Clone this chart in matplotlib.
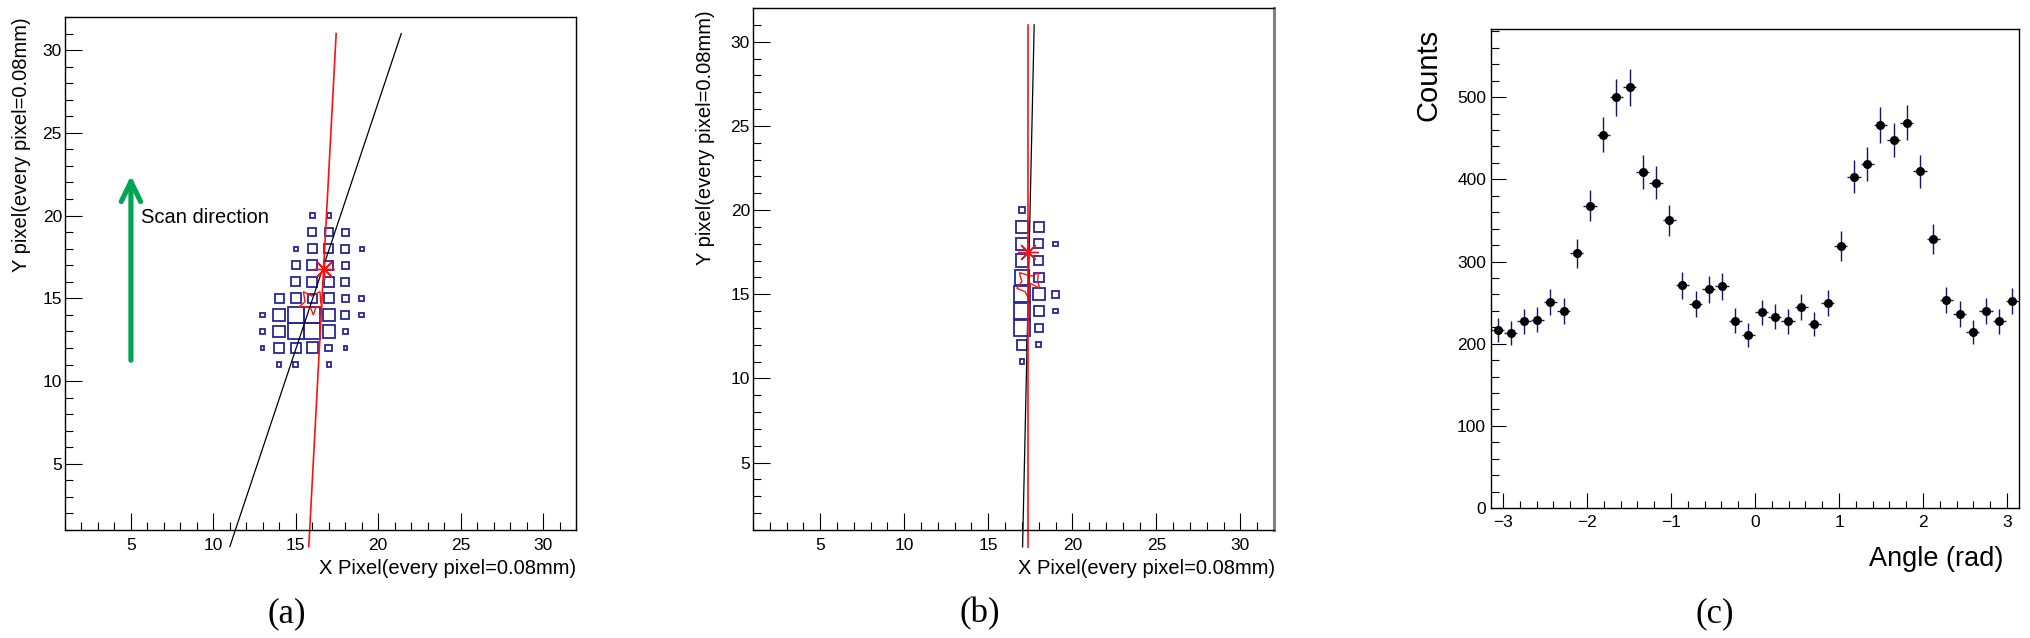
import numpy as np
import matplotlib
matplotlib.use('Agg')
import matplotlib.pyplot as plt
from matplotlib.patches import Rectangle, Polygon
from matplotlib.ticker import MultipleLocator

# ---- panel (a): cluster before the rotation ----
a_x_bins = [13, 14, 15, 16, 17, 18, 19]
a_y_bins = [20, 19, 18, 17, 16, 15, 14, 13, 12, 11]
a_counts = [
    [0, 0, 0, 28, 25, 0, 0],
    [0, 0, 0, 48, 48, 40, 0],
    [0, 0, 24, 56, 52, 48, 24],
    [0, 0, 48, 60, 52, 44, 0],
    [0, 0, 52, 60, 60, 48, 0],
    [0, 52, 60, 52, 60, 44, 28],
    [28, 73, 95, 95, 73, 48, 28],
    [28, 69, 95, 95, 73, 32, 0],
    [20, 57, 60, 65, 40, 20, 0],
    [0, 24, 28, 0, 24, 0, 0],
]
a_black_line = ([11.0, 21.4], [0.0, 31.0])
a_red_line = ([15.79, 17.45], [0.0, 31.0])
a_center = (16.73, 16.75)
a_trace_x = [15.46, 15.97, 16.47, 16.51, 16.58, 16.23, 16.07, 15.87, 15.22, 15.56]
a_trace_y = [15.40, 15.14, 15.40, 14.80, 14.49, 14.49, 13.99, 14.49, 14.49, 14.80]
scan_arrow_x = 5.0
scan_arrow_y = (11.26, 22.41)

# ---- panel (b): cluster after the rotation ----
b_x_bins = [17, 18, 19]
b_y_bins = [20, 19, 18, 17, 16, 15, 14, 13, 12, 11]
b_counts = [
    [36, 0, 0],
    [72, 56, 0],
    [72, 52, 24],
    [72, 52, 0],
    [84, 56, 0],
    [95, 68, 40],
    [95, 60, 24],
    [95, 48, 0],
    [60, 28, 0],
    [28, 0, 0],
]
b_black_line = ([17.04, 17.73], [0.0, 31.0])
b_red_line = ([17.35, 17.35], [0.0, 31.0])
b_center = (17.35, 17.53)
b_trace_x = [16.85, 17.59, 17.98, 17.93, 18.08, 17.49, 17.39, 17.19, 16.70, 17.00]
b_trace_y = [16.28, 16.08, 16.28, 15.75, 15.35, 15.65, 14.76, 15.15, 15.35, 15.75]

# ---- panel (c): angular distribution, 40 bins over [-pi, pi] ----
angle_counts = [217, 213, 227, 229, 251, 240, 310, 368, 454, 500,
                512, 409, 396, 350, 271, 248, 266, 270, 228, 211,
                238, 233, 227, 245, 224, 250, 319, 403, 419, 466,
                448, 469, 410, 327, 253, 236, 214, 240, 227, 252]

W, H = 2030, 638
BOX_COLOR = '#26269a'
RED = '#ff1010'
plt.rcParams['font.family'] = ['Liberation Sans', 'DejaVu Sans']


def add_axes_px(fig, left, top, right, bottom):
    """Add axes from a pixel box (origin top left)."""
    return fig.add_axes([left / W, 1 - bottom / H,
                         (right - left) / W, (bottom - top) / H])


def style_pixel_axes(ax):
    ax.set_xlim(1, 32)
    ax.set_ylim(1, 32)
    ax.xaxis.set_major_locator(MultipleLocator(5))
    ax.xaxis.set_minor_locator(MultipleLocator(1))
    ax.yaxis.set_major_locator(MultipleLocator(5))
    ax.yaxis.set_minor_locator(MultipleLocator(1))
    ax.tick_params(which='both', direction='in', width=0.8, labelsize=12.5)
    ax.tick_params(which='major', length=12.2)
    ax.tick_params(which='minor', length=5.8)
    ax.tick_params(axis='x', pad=5.5)
    ax.tick_params(axis='y', pad=2.2)
    for s in ax.spines.values():
        s.set_linewidth(1.0)


def draw_boxes(ax, xbins, ybins, counts):
    counts = np.asarray(counts, dtype=float)
    top = counts.max()
    for i, yb in enumerate(ybins):
        for j, xb in enumerate(xbins):
            if counts[i, j] <= 0:
                continue
            side = 0.97 * counts[i, j] / top
            ax.add_patch(Rectangle((xb - side / 2, yb - side / 2), side, side,
                                   fill=False, ec=BOX_COLOR, lw=1.3))


def draw_fit(ax, black, red, center, tx, ty):
    ax.plot(black[0], black[1], color='k', lw=0.9, clip_on=False)
    ax.plot(red[0], red[1], color=RED, lw=1.2, clip_on=False)
    ax.add_patch(Polygon(np.column_stack([tx, ty]), closed=True, fill=False,
                         ec=RED, lw=1.0))
    ax.plot([center[0]], [center[1]], marker=(8, 2, 0), ms=15, mec=RED,
            mew=1.0, ls='none')


fig = plt.figure(figsize=(W / 100, H / 100), dpi=100)

# (a)
ax_a = add_axes_px(fig, 65, 17, 576, 530)
style_pixel_axes(ax_a)
draw_boxes(ax_a, a_x_bins, a_y_bins, a_counts)
draw_fit(ax_a, a_black_line, a_red_line, a_center, a_trace_x, a_trace_y)
ax_a.annotate('', xy=(scan_arrow_x, scan_arrow_y[1]),
              xytext=(scan_arrow_x, scan_arrow_y[0]),
              arrowprops=dict(arrowstyle='->,head_length=0.72,head_width=0.35',
                              color='#00a651', lw=3.7, mutation_scale=20,
                              shrinkA=0, shrinkB=0))
ax_a.text(5.6, 19.57, 'Scan direction', fontsize=14.5, va='baseline')

# (b)
ax_b = add_axes_px(fig, 753, 8, 1274, 530)
style_pixel_axes(ax_b)
ax_b.spines['right'].set_color('#808080')
ax_b.spines['right'].set_linewidth(2.2)
draw_boxes(ax_b, b_x_bins, b_y_bins, b_counts)
draw_fit(ax_b, b_black_line, b_red_line, b_center, b_trace_x, b_trace_y)

# (c)
ax_c = add_axes_px(fig, 1491, 29, 2019, 508)
edges = np.linspace(-np.pi, np.pi, len(angle_counts) + 1)
centers = 0.5 * (edges[1:] + edges[:-1])
half = 0.5 * (edges[1] - edges[0])
counts = np.array(angle_counts, dtype=float)
ax_c.errorbar(centers, counts, xerr=half, yerr=np.sqrt(counts), fmt='o',
              ms=5.5, mfc='k', mec='k', ecolor='#14146e', elinewidth=1.0,
              capsize=0)
ax_c.set_xlim(-np.pi, np.pi)
ax_c.set_ylim(0, 583)
ax_c.xaxis.set_major_locator(MultipleLocator(1))
ax_c.xaxis.set_minor_locator(MultipleLocator(0.2))
ax_c.yaxis.set_major_locator(MultipleLocator(100))
ax_c.yaxis.set_minor_locator(MultipleLocator(20))
ax_c.tick_params(which='both', direction='in', width=0.8, labelsize=12.5)
ax_c.tick_params(which='major', length=10.8)
ax_c.tick_params(which='minor', length=5.4)
ax_c.tick_params(axis='x', pad=5.0)
ax_c.tick_params(axis='y', pad=3.6)
for s in ax_c.spines.values():
    s.set_linewidth(1.0)

# axis titles, placed in pixels like the ROOT canvases
def ftext(x, y, s, **kw):
    fig.text(x / W, 1 - y / H, s, **kw)

lab = 'X Pixel(every pixel=0.08mm)'
ylab = 'Y pixel(every pixel=0.08mm)'
ftext(576, 574, lab, fontsize=14.5, ha='right', va='baseline')
ftext(1275, 574, lab, fontsize=14.5, ha='right', va='baseline')
ftext(27, 17, ylab, fontsize=14.5, rotation=90, rotation_mode='anchor',
      ha='right', va='baseline')
ftext(711, 10, ylab, fontsize=14.5, rotation=90, rotation_mode='anchor',
      ha='right', va='baseline')
ftext(1437, 29, 'Counts', fontsize=21, rotation=90, rotation_mode='anchor',
      ha='right', va='baseline')
ftext(2003, 566, 'Angle (rad)', fontsize=19.5, ha='right', va='baseline')

for x, tag in [(287, '(a)'), (980, '(b)'), (1715, '(c)')]:
    ftext(x, 614, tag, fontsize=25, ha='center', va='center',
          family=['Liberation Serif', 'DejaVu Serif'])

fig.savefig('out.png', dpi=100)
